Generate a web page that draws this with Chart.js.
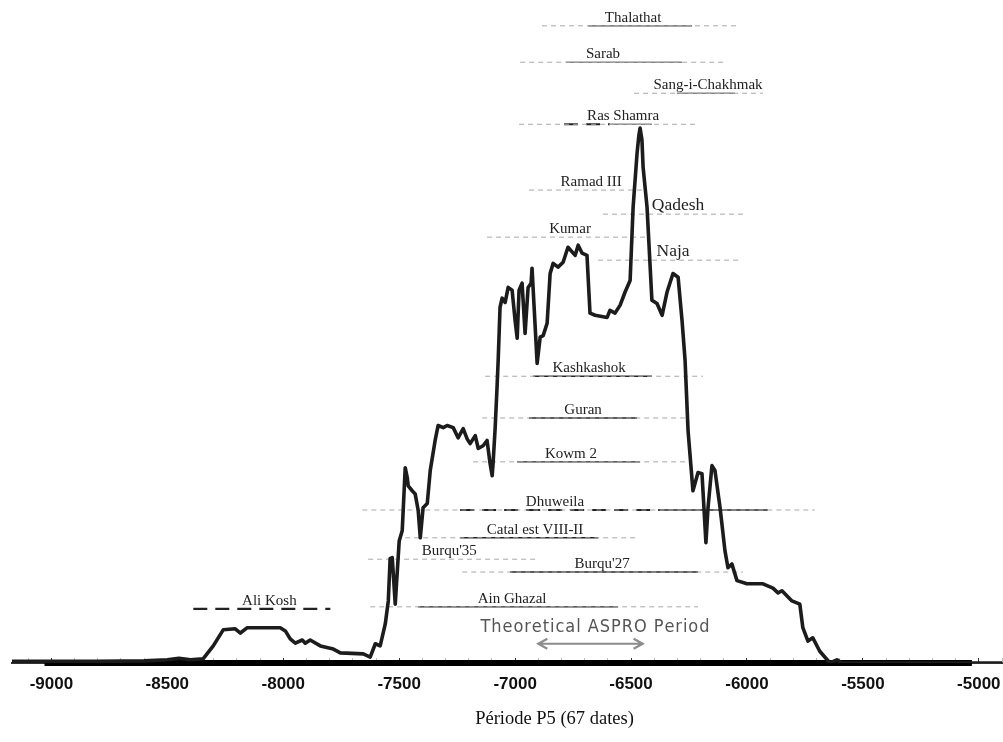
<!DOCTYPE html>
<html>
<head>
<meta charset="utf-8">
<script src="https://cdn.jsdelivr.net/npm/chart.js@4.4.1/dist/chart.umd.min.js"></script>
<style>
  html, body { margin: 0; padding: 0; background: #fff; }
  #wrap { width: 1003px; height: 742px; }
</style>
</head>
<body>
<div id="wrap"><canvas id="myChart" width="1003" height="742"></canvas></div>
<script>
// summed probability curve, period P5 (years BC as negatives, density relative to peak)
var curveYears = [
  -9170, -9000, -8800, -8600, -8500, -8450, -8400, -8345, -8302, -8259, -8207, -8185, -8155, -8099,
  -8013, -7991, -7970, -7948, -7918, -7905, -7884, -7840, -7784, -7754, -7655, -7625, -7603, -7582,
  -7560, -7547, -7539, -7530, -7517, -7500, -7487, -7474, -7465, -7461, -7444, -7431, -7418, -7409,
  -7397, -7379, -7366, -7345, -7332, -7310, -7293, -7267, -7246, -7224, -7207, -7194, -7172, -7159,
  -7138, -7121, -7108, -7099, -7095, -7086, -7078, -7073, -7065, -7056, -7043, -7030, -7013, -7000,
  -6991, -6983, -6970, -6957, -6944, -6931, -6927, -6918, -6905, -6892, -6879, -6862, -6849, -6836,
  -6815, -6793, -6772, -6741, -6728, -6711, -6690, -6677, -6655, -6603, -6591, -6569, -6547, -6526,
  -6504, -6491, -6474, -6466, -6461, -6453, -6448, -6431, -6410, -6388, -6366, -6345, -6319, -6297,
  -6280, -6267, -6254, -6233, -6211, -6194, -6177, -6168, -6151, -6138, -6116, -6095, -6082, -6065,
  -6043, -6000, -5931, -5888, -5866, -5849, -5806, -5772, -5759, -5737, -5716, -5686, -5642, -5612,
  -5591, -4900
];
var curveDensity = [
  0.003, 0.003, 0.003, 0.004, 0.006, 0.009, 0.006, 0.008, 0.032, 0.062, 0.064, 0.056, 0.066, 0.066,
  0.066, 0.060, 0.045, 0.037, 0.043, 0.037, 0.043, 0.032, 0.026, 0.019, 0.017, 0.011, 0.036, 0.032,
  0.073, 0.116, 0.195, 0.197, 0.110, 0.228, 0.247, 0.365, 0.346, 0.331, 0.322, 0.316, 0.285, 0.234,
  0.290, 0.298, 0.360, 0.416, 0.444, 0.440, 0.444, 0.440, 0.421, 0.438, 0.419, 0.410, 0.425, 0.401,
  0.406, 0.416, 0.373, 0.350, 0.373, 0.440, 0.515, 0.566, 0.665, 0.682, 0.674, 0.702, 0.697, 0.640,
  0.607, 0.697, 0.710, 0.616, 0.702, 0.710, 0.738, 0.665, 0.560, 0.609, 0.612, 0.635, 0.728, 0.747,
  0.740, 0.749, 0.777, 0.762, 0.781, 0.766, 0.762, 0.654, 0.650, 0.646, 0.659, 0.654, 0.669, 0.693,
  0.715, 0.852, 0.953, 0.987, 1.000, 0.978, 0.927, 0.852, 0.678, 0.672, 0.650, 0.693, 0.728, 0.721,
  0.640, 0.566, 0.434, 0.322, 0.356, 0.354, 0.225, 0.290, 0.369, 0.360, 0.290, 0.210, 0.178, 0.185,
  0.154, 0.148, 0.148, 0.140, 0.131, 0.135, 0.116, 0.110, 0.066, 0.041, 0.047, 0.022, 0.000, 0.006,
  0.000, 0.000
];

// sites, top to bottom
var sites = ['Thalathat', 'Sarab', 'Sang-i-Chakhmak', 'Ras Shamra', 'Ramad III', 'Qadesh', 'Kumar', 'Naja',
  'Kashkashok', 'Guran', 'Kowm 2', 'Dhuweila', 'Catal est VIII-II', "Burqu'35", "Burqu'27", 'Ain Ghazal', 'Ali Kosh'];
var siteLevel = [1.191, 1.123, 1.065, 1.007, 0.884, 0.839, 0.796, 0.753,
  0.536, 0.458, 0.376, 0.286, 0.234, 0.194, 0.170, 0.105, 0.101];
var siteCentre = [-6491, -6621, -6168, -6534, -6672, -6297, -6763, -6319,
  -6681, -6707, -6759, -6828, -6914, -7284, -6625, -7013, -8060];
// full range (dashed grey)
var outerFrom = [-6884, -6978, -6487, -6983, -6940, -6621, -7121, -6642, -7129, -7142, -7181, -7659, -7474, -7634, -7228, -7625, null];
var outerTo   = [-6043, -6086, -5931, -6211, -6448, -6017, -6431, -6022, -6190, -6267, -6267, -5707, -6470, -6914, -6017, -6211, null];
// core range (solid)
var innerFrom = [-6685, -6780, -6302, -6591, null, null, null, null, -6922, -6940, -6991, -6375, -7237, null, -7022, -7418, null];
var innerTo   = [-6237, -6280, -6052, -6410, null, null, null, null, -6410, -6474, -6461, -5910, -6642, null, -6211, -6556, null];
// uncertain range (long dashes)
var looseFrom = [null, null, null, -6789, null, null, null, null, null, null, null, -7237, null, null, null, null, -8388];
var looseTo   = [null, null, null, -6591, null, null, null, null, null, null, null, -6375, null, null, null, null, -7797];

var tickYears = [-9000, -8500, -8000, -7500, -7000, -6500, -6000, -5500, -5000];
var axisSpan = [-9030, -5030];
var asproPeriod = [-6900, -6450];

drawChart();

function drawChart() {
    var greyCore = ['Thalathat', 'Sarab', 'Sang-i-Chakhmak', 'Ras Shamra'];
    var bigLabels = ['Qadesh', 'Naja'];

    function seg(a, b, lvl, color, width, dash) {
        return {
            data: [{x: a, y: lvl}, {x: b, y: lvl}],
            borderColor: color, borderWidth: width, borderDash: dash,
            pointRadius: 0, order: 2, clip: false
        };
    }

    var datasets = [];
    datasets.push({
        label: 'P5',
        data: curveYears.map(function (x, i) { return {x: x, y: curveDensity[i]}; }),
        borderColor: '#1c1c1c', borderWidth: 3.6, pointRadius: 0, tension: 0,
        borderJoinStyle: 'round', borderCapStyle: 'round', order: 0
    });
    datasets.push({
        data: [{x: axisSpan[0], y: 0}, {x: axisSpan[1], y: 0}],
        borderColor: '#000', borderWidth: 6, pointRadius: 0, order: 1, clip: false
    });
    sites.forEach(function (s, i) {
        if (outerFrom[i] != null) datasets.push(seg(outerFrom[i], outerTo[i], siteLevel[i], '#a9a9a9', 1, [5, 4]));
        if (innerFrom[i] != null) {
            var grey = greyCore.indexOf(s) >= 0;
            datasets.push(seg(innerFrom[i], innerTo[i], siteLevel[i], grey ? '#858585' : '#262626', grey ? 1.6 : 1.4, []));
        }
        if (looseFrom[i] != null) datasets.push(seg(looseFrom[i], looseTo[i], siteLevel[i], '#222', 2.2, [14, 8]));
    });

    var minorTicks = [];
    for (var t = -9100; t <= -4900; t += 100) minorTicks.push(t);

    var decor = {
        id: 'decor',
        afterDatasetsDraw: function (chart) {
            var ctx = chart.ctx, xs = chart.scales.x, ys = chart.scales.y;
            ctx.save();
            ctx.fillStyle = '#222';
            ctx.textAlign = 'center';
            ctx.textBaseline = 'alphabetic';
            sites.forEach(function (s, i) {
                var big = bigLabels.indexOf(s) >= 0;
                ctx.font = (big ? '17.5px' : '15px') + ' "Liberation Serif", "Times New Roman", serif';
                ctx.fillText(s, xs.getPixelForValue(siteCentre[i]), ys.getPixelForValue(siteLevel[i]) - 4);
            });

            // theoretical ASPRO period
            var x1 = xs.getPixelForValue(asproPeriod[0]), x2 = xs.getPixelForValue(asproPeriod[1]);
            var ya = ys.getPixelForValue(0.036);
            ctx.strokeStyle = '#8c8c8c';
            ctx.lineWidth = 2.2;
            ctx.beginPath();
            ctx.moveTo(x1, ya); ctx.lineTo(x2, ya);
            ctx.moveTo(x1 + 9, ya - 5); ctx.lineTo(x1, ya); ctx.lineTo(x1 + 9, ya + 5);
            ctx.moveTo(x2 - 9, ya - 5); ctx.lineTo(x2, ya); ctx.lineTo(x2 - 9, ya + 5);
            ctx.stroke();

            var txt = 'Theoretical ASPRO Period';
            ctx.font = '18px "DejaVu Sans Condensed", "DejaVu Sans", sans-serif';
            ctx.fillStyle = '#555';
            ctx.textAlign = 'left';
            var w = ctx.measureText(txt).width;
            var target = 228;
            var gap = (target - w) / (txt.length - 1);
            var cx = (x1 + x2) / 2 + 4 - target / 2;
            var yt = ys.getPixelForValue(0.058);
            for (var k = 0; k < txt.length; k++) {
                ctx.fillText(txt[k], cx, yt);
                cx += ctx.measureText(txt[k]).width + gap;
            }

            // axis caption
            ctx.font = '18.5px "Liberation Serif", "Times New Roman", serif';
            ctx.fillStyle = '#111';
            ctx.textAlign = 'center';
            ctx.fillText('Période P5 (67 dates)', xs.getPixelForValue(-6830), 724);
            ctx.restore();
        }
    };

    var ctx = document.getElementById('myChart').getContext('2d');
    window.myChart = new Chart(ctx, {
        type: 'line',
        data: { datasets: datasets },
        plugins: [decor],
        options: {
            responsive: false,
            animation: false,
            layout: { padding: { left: 12, right: 1, top: 10, bottom: 0 } },
            plugins: {
                legend: { display: false },
                tooltip: { enabled: false },
                title: { display: false }
            },
            scales: {
                x: {
                    type: 'linear',
                    min: -9170,
                    max: -4900,
                    afterBuildTicks: function (scale) {
                        scale.ticks = minorTicks.map(function (v) { return {value: v}; });
                    },
                    afterFit: function (scale) {
                        scale.paddingLeft = 0;
                        scale.paddingRight = 0;
                        scale.height = 79;
                    },
                    ticks: {
                        autoSkip: false,
                        maxRotation: 0,
                        padding: 16,
                        color: '#111',
                        font: { family: '"Liberation Sans", Arial, sans-serif', weight: 'bold', size: 17 },
                        callback: function (v) { return tickYears.indexOf(v) >= 0 ? String(v) : ''; }
                    },
                    grid: {
                        drawOnChartArea: false,
                        drawTicks: true,
                        tickLength: -5,
                        color: function (c) { return c.tick && tickYears.indexOf(c.tick.value) >= 0 ? '#333' : '#bbb'; },
                        lineWidth: 1
                    },
                    border: { display: true, color: '#333', width: 2 }
                },
                y: { display: false, min: 0, max: 1.2206 }
            }
        }
    });
}
</script>
</body>
</html>
